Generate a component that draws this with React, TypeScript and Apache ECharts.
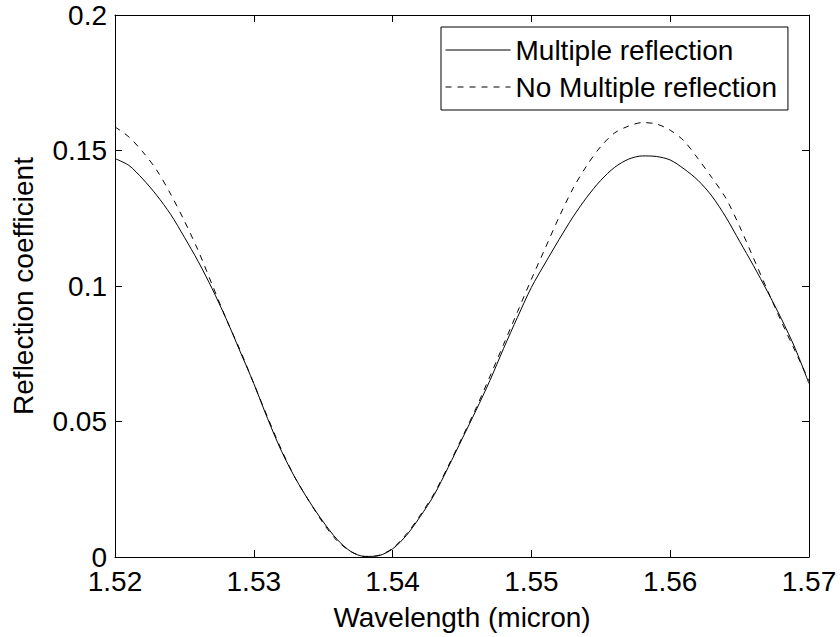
import React, { useEffect, useRef } from "react";
import * as echarts from "echarts";

const wavelength = [
  1.520, 1.521, 1.522, 1.523, 1.524, 1.525, 1.526, 1.527, 1.528, 1.529,
  1.530, 1.531, 1.532, 1.533, 1.534, 1.535, 1.536, 1.537, 1.538, 1.539,
  1.540, 1.541, 1.542, 1.543, 1.544, 1.545, 1.546, 1.547, 1.548, 1.549,
  1.550, 1.551, 1.552, 1.553, 1.554, 1.555, 1.556, 1.557, 1.558, 1.559,
  1.560, 1.561, 1.562, 1.563, 1.564, 1.565, 1.566, 1.567, 1.568, 1.569,
  1.570,
];

const multipleReflection = [
  0.147, 0.1445, 0.1395, 0.1335, 0.1265, 0.118, 0.109, 0.099, 0.088, 0.076,
  0.064, 0.051, 0.039, 0.029, 0.0205, 0.013, 0.0065, 0.002, 0.0002, 0.0005,
  0.003, 0.008, 0.015, 0.023, 0.033, 0.0435, 0.054, 0.065, 0.077, 0.0885,
  0.0995, 0.1085, 0.1172, 0.1255, 0.1328, 0.139, 0.1438, 0.1468, 0.148, 0.1478,
  0.1465, 0.1432, 0.139, 0.1332, 0.1255, 0.1165, 0.1075, 0.098, 0.088, 0.077,
  0.064,
];

const noMultipleReflection = [
  0.1587, 0.155, 0.1495, 0.1428, 0.134, 0.124, 0.113, 0.1005, 0.088, 0.0765,
  0.064, 0.0515, 0.0395, 0.029, 0.0205, 0.0125, 0.006, 0.002, 0.0002, 0.0006,
  0.0032, 0.0085, 0.0155, 0.0235, 0.0335, 0.044, 0.0548, 0.0665, 0.0785, 0.0905,
  0.1025, 0.114, 0.1255, 0.136, 0.1445, 0.1515, 0.1565, 0.159, 0.1603, 0.1598,
  0.1575, 0.1535, 0.147, 0.140, 0.1325, 0.122, 0.1103, 0.0985, 0.087, 0.076,
  0.065,
];

const seriesNames = ["Multiple reflection", "No Multiple reflection"];
const xTitle = "Wavelength (micron)";
const yTitle = "Reflection coefficient";

const FONT = "'Liberation Sans', Arial, Helvetica, sans-serif";
const FS = 28;

export default function App() {
  const ref = useRef<HTMLDivElement>(null);

  useEffect(() => {
    if (!ref.current) return;
    const chart = echarts.init(ref.current, undefined, { renderer: "svg" });

    const axisCommon = {
      axisLine: { show: true, onZero: false, lineStyle: { color: "#000", width: 1 } },
      axisTick: { show: true, inside: true, length: 7, lineStyle: { color: "#000", width: 1 } },
      splitLine: { show: false },
    };

    const toPairs = (ys: number[]) => wavelength.map((x, i) => [x, ys[i]]);

    chart.setOption({
      animation: false,
      backgroundColor: "#fff",
      textStyle: { fontFamily: FONT },
      grid: { left: 115, top: 15, right: 31, bottom: 80, containLabel: false },
      legend: {
        show: true,
        orient: "vertical",
        left: 441,
        top: 27,
        padding: [8, 11, 8, 4],
        itemWidth: 65,
        itemHeight: 20,
        itemGap: 7,
        align: "left",
        borderColor: "#000",
        borderWidth: 1,
        backgroundColor: "#fff",
        itemStyle: { color: "rgba(0,0,0,0)", borderColor: "rgba(0,0,0,0)", borderWidth: 0 },
        lineStyle: { width: 1, color: "#000" },
        textStyle: { fontFamily: FONT, fontSize: FS, color: "#000", lineHeight: 30 },
        data: seriesNames,
      },
      xAxis: [
        {
          type: "value",
          min: 1.52,
          max: 1.57,
          interval: 0.01,
          position: "bottom",
          name: xTitle,
          nameLocation: "middle",
          nameGap: 46,
          nameTextStyle: { fontFamily: FONT, fontSize: FS, color: "#000" },
          axisLabel: {
            show: true,
            margin: 10,
            fontFamily: FONT,
            fontSize: FS,
            color: "#000",
            formatter: (v: number) => v.toFixed(2),
          },
          ...axisCommon,
        },
        {
          type: "value",
          min: 1.52,
          max: 1.57,
          interval: 0.01,
          position: "top",
          axisLabel: { show: false },
          ...axisCommon,
        },
      ],
      yAxis: [
        {
          type: "value",
          min: 0,
          max: 0.2,
          interval: 0.05,
          position: "left",
          name: yTitle,
          nameLocation: "middle",
          nameGap: 78,
          nameTextStyle: { fontFamily: FONT, fontSize: FS, color: "#000" },
          axisLabel: {
            show: true,
            margin: 8,
            fontFamily: FONT,
            fontSize: FS,
            color: "#000",
            formatter: (v: number) => String(parseFloat(v.toFixed(2))),
          },
          ...axisCommon,
        },
        {
          type: "value",
          min: 0,
          max: 0.2,
          interval: 0.05,
          position: "right",
          axisLabel: { show: false },
          ...axisCommon,
        },
      ],
      series: [
        {
          name: seriesNames[0],
          type: "line",
          xAxisIndex: 0,
          yAxisIndex: 0,
          data: toPairs(multipleReflection),
          showSymbol: false,
          symbol: "none",
          smooth: 0.3,
          lineStyle: { color: "#000", width: 1, type: "solid" },
          itemStyle: { color: "#000" },
        },
        {
          name: seriesNames[1],
          type: "line",
          xAxisIndex: 0,
          yAxisIndex: 0,
          data: toPairs(noMultipleReflection),
          showSymbol: false,
          symbol: "none",
          smooth: 0.3,
          lineStyle: { color: "#000", width: 1, type: [6, 6] },
          itemStyle: { color: "#000" },
        },
      ],
    });

    return () => chart.dispose();
  }, []);

  return (
    <div
      ref={ref}
      style={{ position: "fixed", left: 0, top: 0, width: 840, height: 637, background: "#fff" }}
    />
  );
}
